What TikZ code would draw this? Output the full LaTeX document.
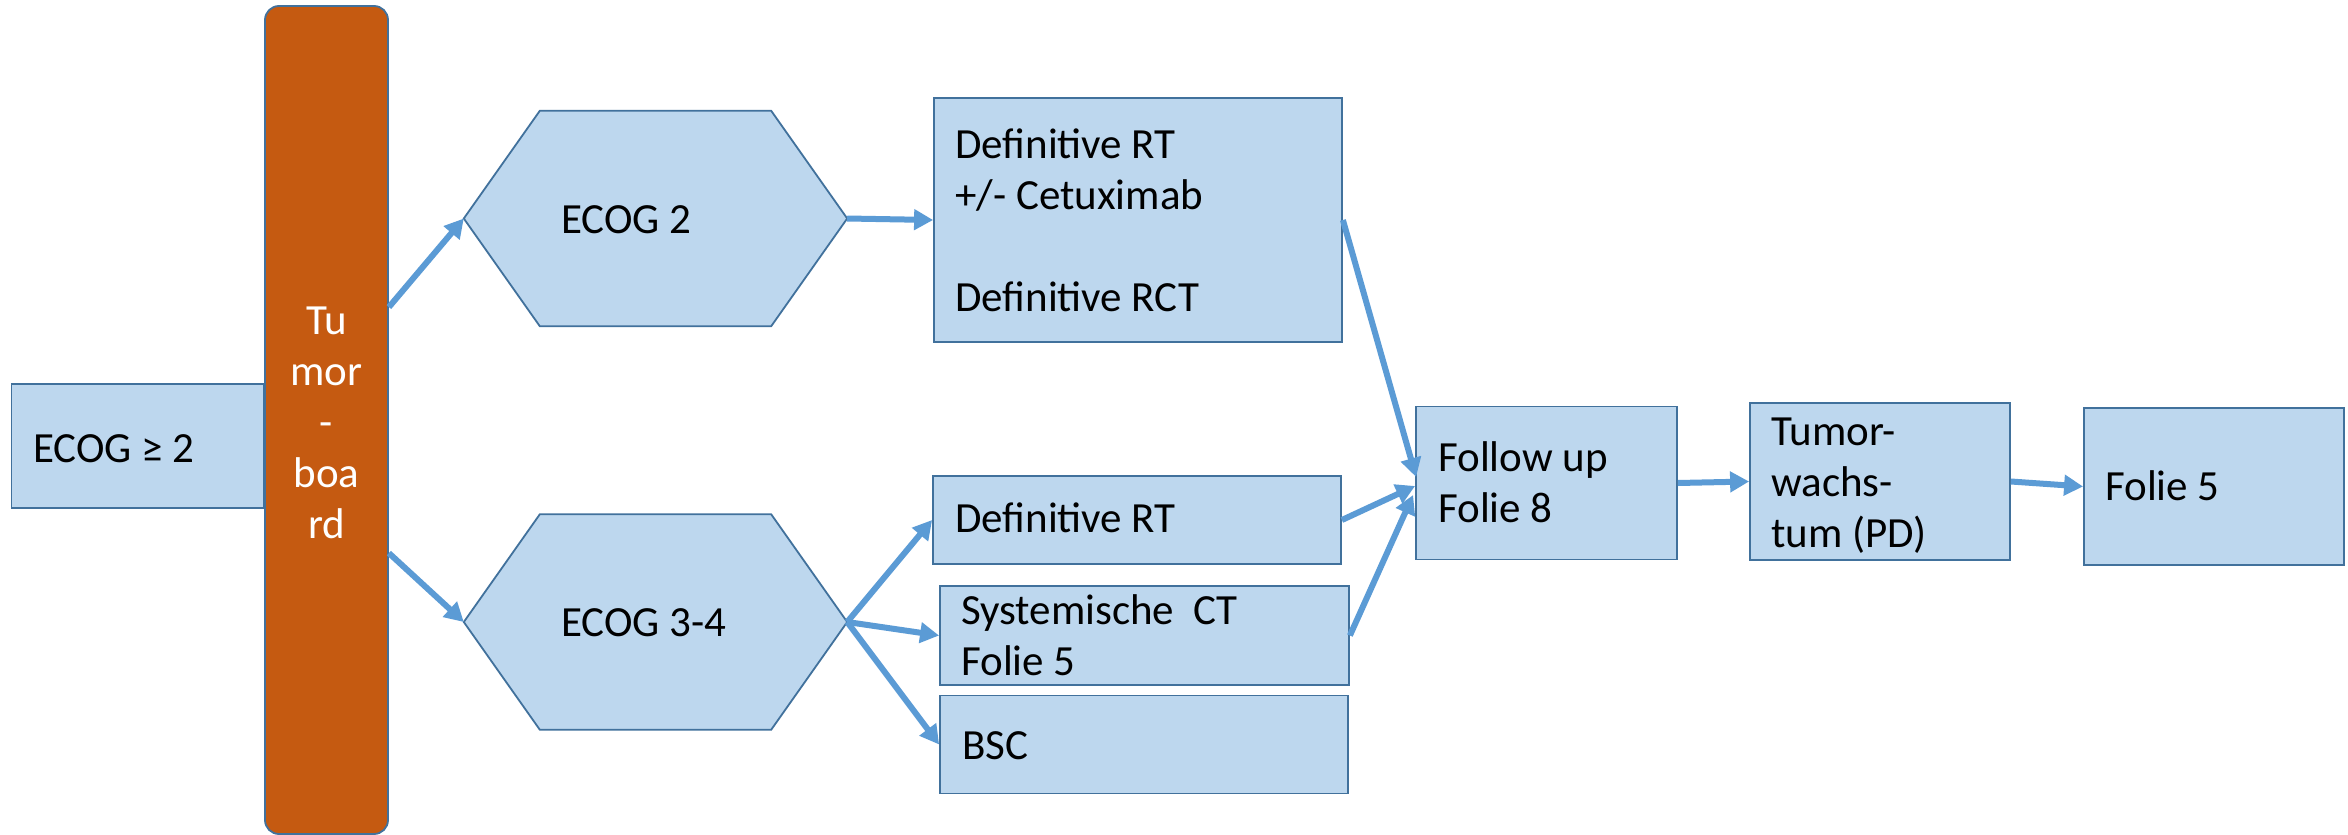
\documentclass[tikz,border=0pt]{standalone}
\usepackage{fontspec}
\setmainfont{Carlito}
\usetikzlibrary{arrows.meta,calc}
\definecolor{boxfill}{HTML}{BDD7EE}
\definecolor{boxline}{HTML}{41719C}
\definecolor{arrowblue}{HTML}{5B9BD5}
\definecolor{boardfill}{HTML}{C55A11}
% invisible strut that fixes the height of a text block's first line
\newcommand{\lnstrut}{\rule{0pt}{35pt}}
\begin{document}
\begin{tikzpicture}[x=1pt,y=-1pt,
  box/.style={draw=boxline, fill=boxfill, line width=1.8pt, inner sep=0pt},
  hexframe/.style={draw=boxline, fill=boxfill, line width=1.8pt, line join=miter},
  board/.style={draw=boxline, fill=boardfill, line width=1.8pt, inner sep=0pt, rounded corners=14pt},
  txt/.style={anchor=north west, inner sep=0pt, align=left, font=\fontsize{43}{51}\selectfont},
  conn/.style={draw=arrowblue, line width=6pt, -{Triangle[length=19pt,width=20pt]}}]
\useasboundingbox (0,0) rectangle (2348,835);
\fill[white] (0,0) rectangle (2348,835);

% start box and tumour board
\node[box, minimum width=252.5pt, minimum height=124pt] (e2) at (137.75,446) {};
\node[board, minimum width=123pt, minimum height=828pt] (tb) at (326.5,420) {};

% ECOG branches (hexagons)
\node[minimum width=383pt, minimum height=215pt, inner sep=0pt] (h2) at (655.5,218.5) {};
\node[minimum width=383pt, minimum height=215pt, inner sep=0pt] (h34) at (655.5,622) {};
\foreach \h in {h2,h34}
  \path[hexframe] (\h.west) -- ($(\h.north west)+(76,0)$) -- ($(\h.north east)+(-76,0)$)
    -- (\h.east) -- ($(\h.south east)+(-76,0)$) -- ($(\h.south west)+(76,0)$) -- cycle;

% therapy boxes
\node[box, minimum width=408pt, minimum height=244pt] (rct) at (1138,220) {};
\node[box, minimum width=408pt, minimum height=87.5pt] (drt) at (1137,520) {};
\node[box, minimum width=409pt, minimum height=99pt] (sct) at (1144.5,635.5) {};
\node[box, minimum width=408pt, minimum height=98pt] (bsc) at (1144,744.5) {};

% follow-up chain
\node[box, minimum width=261pt, minimum height=153pt] (fu) at (1546.5,483) {};
\node[box, minimum width=260pt, minimum height=157pt] (tw) at (1880,481.5) {};
\node[box, minimum width=260pt, minimum height=157pt] (f5) at (2214,486.5) {};

% texts
\node[txt] (te2) at (33,427) {\lnstrut ECOG ≥ 2};
\node[txt, anchor=north, align=center, text=white] (ttb) at (326.5,299) {\lnstrut Tu\\mor\\-\\boa\\rd};
\node[txt] (th2) at (561,198) {\lnstrut ECOG 2};
\node[txt] (th34) at (561,601) {\lnstrut ECOG 3-4};
\node[txt] (trct) at (955,123) {\lnstrut Definitive RT\\+/- Cetuximab\\[51pt]Definitive RCT};
\node[txt] (tdrt) at (955,497) {\lnstrut Definitive RT};
\node[txt] (tsct) at (961,589) {\lnstrut Systemische\ \ CT\\Folie 5};
\node[txt] (tbsc) at (962,724) {\lnstrut BSC};
\node[txt] (tfu) at (1438,436) {\lnstrut Follow up\\Folie 8};
\node[txt] (ttw) at (1771,410) {\lnstrut Tumor-\\wachs-\\tum (PD)};
\node[txt] (tf5) at (2105,465) {\lnstrut Folie 5};

% connectors
\draw[conn] ($(tb.north east)+(0,302)$) -- (h2.west);
\draw[conn] ($(tb.north east)+(0,548)$) -- (h34.west);
\draw[conn] (h2.east) -- (rct.west);
\draw[conn] (h34.east) -- (drt.west);
\draw[conn] (h34.east) -- (sct.west);
\draw[conn] (h34.east) -- (bsc.west);
\draw[conn] (rct.east) -- ($(fu.west)+(1,-6)$);
\draw[conn] (drt.east) -- ($(fu.west)+(0,3)$);
\draw[conn] (sct.east) -- ($(fu.west)+(-2,12)$);
\draw[conn] (fu.east) -- (tw.west);
\draw[conn] (tw.east) -- (f5.west);
\end{tikzpicture}
\end{document}
